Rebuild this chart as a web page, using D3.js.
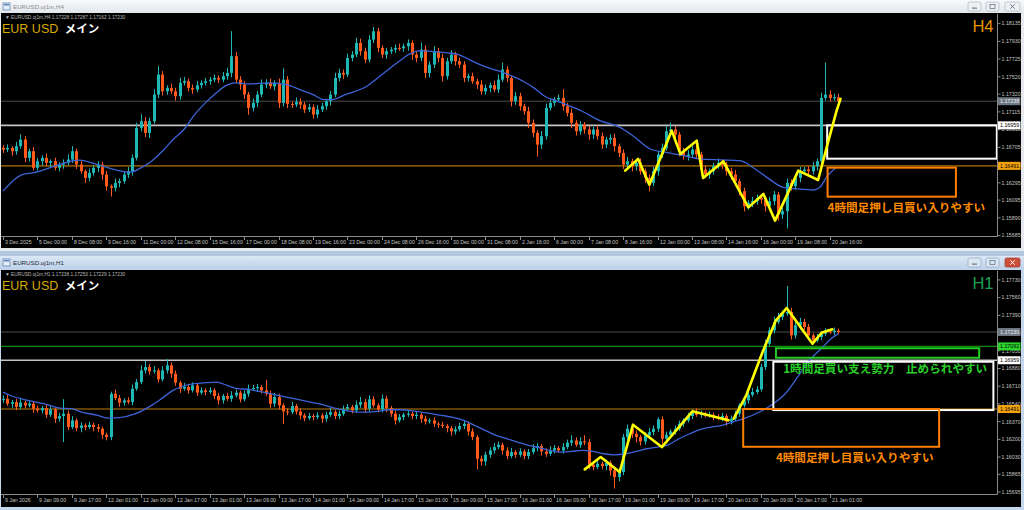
<!DOCTYPE html>
<html><head><meta charset="utf-8">
<script src="https://cdn.jsdelivr.net/npm/d3@7"></script>
<style>html,body{margin:0;padding:0;background:#b9cde2;overflow:hidden}svg{display:block}</style>
</head><body><svg id="c" width="1024" height="510"></svg>
<script>
// ================= DATA =================
const topXLabels = ["3 Dec 2025","5 Dec 00:00","8 Dec 08:00","9 Dec 16:00","11 Dec 00:00","12 Dec 08:00","15 Dec 16:00","17 Dec 00:00","18 Dec 08:00","19 Dec 16:00","23 Dec 00:00","24 Dec 08:00","26 Dec 16:00","30 Dec 00:00","31 Dec 08:00","2 Jan 16:00","6 Jan 00:00","7 Jan 08:00","8 Jan 16:00","12 Jan 00:00","13 Jan 08:00","14 Jan 16:00","16 Jan 00:00","19 Jan 08:00","20 Jan 16:00"];
const botXLabels = ["9 Jan 2026","9 Jan 09:00","9 Jan 17:00","12 Jan 01:00","12 Jan 09:00","12 Jan 17:00","13 Jan 01:00","13 Jan 09:00","13 Jan 17:00","14 Jan 01:00","14 Jan 09:00","14 Jan 17:00","15 Jan 01:00","15 Jan 09:00","15 Jan 17:00","16 Jan 01:00","16 Jan 09:00","16 Jan 17:00","19 Jan 01:00","19 Jan 09:00","19 Jan 17:00","20 Jan 01:00","20 Jan 09:00","20 Jan 17:00","21 Jan 01:00"];

const topTicks = [1.18135,1.17930,1.17725,1.17520,1.17320,1.17115,1.16910,1.16705,1.16500,1.16295,1.16095,1.15890,1.15685];
const botTicks = [1.17730,1.17560,1.17390,1.17220,1.17050,1.16880,1.16710,1.16540,1.16370,1.16200,1.16030,1.15865,1.15695];

// H4 closes
const topOpen0 = 1.16700;
const topClose = [
1.16680,1.16699,1.16660,1.16718,1.16795,1.16583,1.16660,1.16468,
1.16545,1.16583,1.16526,1.16545,1.16468,1.16506,1.16526,1.16564,
1.16660,1.16506,1.16429,1.16352,1.16410,1.16468,1.16506,1.16391,
1.16256,1.16237,1.16295,1.16314,1.16391,1.16429,1.16583,1.16930,
1.17007,1.16872,1.17007,1.17315,1.17546,1.17353,1.17392,1.17353,
1.17296,1.17450,1.17469,1.17392,1.17373,1.17423,1.17450,1.17469,
1.17488,1.17507,1.17488,1.17527,1.17565,1.17758,1.17488,1.17430,
1.17315,1.17161,1.17219,1.17315,1.17430,1.17450,1.17411,1.17450,
1.17219,1.17488,1.17207,1.17199,1.17230,1.17199,1.17142,1.17169,
1.17084,1.17142,1.17180,1.17238,1.17315,1.17507,1.17565,1.17546,
1.17738,1.17777,1.17912,1.17815,1.17719,1.17950,1.18046,1.17854,
1.17777,1.17815,1.17835,1.17854,1.17850,1.17873,1.17912,1.17777,
1.17738,1.17835,1.17565,1.17661,1.17815,1.17738,1.17527,1.17700,
1.17777,1.17700,1.17661,1.17507,1.17527,1.17469,1.17430,1.17353,
1.17392,1.17423,1.17373,1.17488,1.17604,1.17507,1.17238,1.17296,
1.17180,1.17122,1.16988,1.16872,1.16737,1.16834,1.17161,1.17219,
1.17257,1.17276,1.17180,1.17103,1.16988,1.16891,1.16968,1.16911,
1.16853,1.16911,1.16834,1.16737,1.16795,1.16814,1.16718,1.16641,
1.16506,1.16545,1.16487,1.16526,1.16429,1.16352,1.16295,1.16429,
1.16622,1.16699,1.16891,1.16911,1.16853,1.16660,1.16603,1.16622,
1.16680,1.16622,1.16449,1.16391,1.16429,1.16487,1.16526,1.16506,
1.16429,1.16391,1.16314,1.16198,1.16025,1.16064,1.16083,1.16121,
1.16102,1.16025,1.16083,1.16160,1.15929,1.15967,1.16295,1.16256,
1.16352,1.16429,1.16449,1.16429,1.16487,1.16545,1.17276,1.17315,
1.17276,1.17284,1.17238];
// upper / lower wick lengths in pips
const topHiW = [
3,4,2,5,6,4,3,5, 4,3,5,2,4,3,4,6, 6,3,4,2,5,3,4,3, 4,2,5,3,4,5,4,6,
8,5,4,6,10,4,3,5, 4,6,5,3,4,5,3,4, 3,4,3,5,6,29,5,4, 4,3,5,4,6,4,5,3,
5,13,4,3,5,4,3,4, 3,5,4,3,4,6,5,4, 5,4,6,5,4,5,5,4, 3,4,3,4,5,3,4,3,
4,8,5,4,6,4,5,4, 5,3,4,4,3,4,3,5, 4,3,5,6,8,4,3,5, 4,3,5,4,3,6,5,4,
3,4,10,4,5,3,4,3, 4,3,5,4,3,4,5,3, 4,5,3,4,5,3,4,5, 4,5,6,8,4,3,4,5,
4,5,3,4,3,4,5,4, 3,4,5,3,4,3,5,4, 4,3,5,4,3,4,5,4, 4,5,3,4,5,3,6,37,
5,4,4];
const topLoW = [
4,3,5,4,3,5,4,3, 3,5,4,6,3,4,5,3, 4,5,3,6,4,3,5,6, 5,10,4,5,3,4,5,3,
4,5,6,3,4,5,4,3, 5,4,3,4,5,3,4,3, 4,3,4,3,4,5,4,6, 5,8,4,5,3,4,3,5,
6,4,5,4,3,5,4,3, 5,4,3,4,5,3,4,5, 3,4,3,5,4,3,4,5, 4,5,3,4,3,4,5,6,
5,4,6,5,4,5,6,4, 3,5,4,5,4,3,5,4, 4,5,3,4,3,5,6,4, 5,4,6,5,14,5,4,3,
4,3,5,4,6,5,4,5, 6,5,4,5,4,5,6,5, 5,4,6,5,4,6,10,4, 5,4,3,4,5,6,4,5,
4,5,6,4,5,4,3,5, 5,6,4,5,6,4,5,4, 5,6,4,5,7,5,20,5, 4,5,4,5,4,5,4,3,
4,3,4];
// H4 moving average (bar index, price)
const topMABar = [0,4.5,7,12,15.8,17.7,22,24.5,29.5,32,34.5,37,39.5,42,44.5,47,49.5,52,54,57,62,65.8,69.5,72,74.5,76.4,79.5,84.5,87,89.5,92,94.5,97,99.5,103.3,105.8,108.3,110.8,113.3,115.8,118.3,120.8,123.3,125.8,128.3,130.8,134.5,138.6,143.3,146.5,150.3,154.1,158,161.9,166.5,171.2,174.5,177.4,181.2,184.5,188.2,189.7,191.4,193.6];
const topMAVal = [1.16199,1.16391,1.16410,1.16487,1.16545,1.16557,1.16506,1.16468,1.16418,1.16468,1.16545,1.16660,1.16795,1.16911,1.17084,1.17219,1.17334,1.17423,1.17450,1.17438,1.17450,1.17430,1.17361,1.17315,1.17257,1.17257,1.17315,1.17411,1.17507,1.17604,1.17700,1.17785,1.17823,1.17815,1.17796,1.17777,1.17719,1.17661,1.17615,1.17577,1.17527,1.17469,1.17392,1.17296,1.17246,1.17199,1.17122,1.17014,1.16936,1.16830,1.16686,1.16647,1.16610,1.16571,1.16560,1.16551,1.16460,1.16358,1.16243,1.16225,1.16212,1.16243,1.16372,1.16474];
// yellow hand-drawn zigzag (H4)
const topZigBar = [144.5,147.5,150.1,155.3,157.3,161.1,162.6,167.3,173.1,176.6,179.3,184.7,189.3,191.7,193.6,194.5];
const topZigVal = [1.16436,1.16571,1.16274,1.16898,1.16629,1.16782,1.16351,1.16543,1.16011,1.16166,1.15858,1.16436,1.16328,1.16782,1.17129,1.17265];

// H1 closes
const botOpen0 = 1.16580;
const botClose = [
1.16590,1.16542,1.16558,1.16510,1.16552,1.16526,1.16542,1.16494,
1.16478,1.16500,1.16436,1.16488,1.16398,1.16424,1.16446,1.16318,
1.16382,1.16308,1.16334,1.16318,1.16340,1.16318,1.16302,1.16244,
1.16222,1.16638,1.16596,1.16552,1.16574,1.16558,1.16686,1.16750,
1.16862,1.16894,1.16852,1.16862,1.16776,1.16862,1.16910,1.16830,
1.16744,1.16686,1.16702,1.16670,1.16718,1.16648,1.16670,1.16654,
1.16670,1.16616,1.16574,1.16616,1.16590,1.16622,1.16648,1.16584,
1.16638,1.16686,1.16692,1.16702,1.16670,1.16638,1.16542,1.16606,
1.16526,1.16468,1.16462,1.16520,1.16468,1.16430,1.16404,1.16424,
1.16414,1.16430,1.16398,1.16436,1.16462,1.16424,1.16446,1.16494,
1.16510,1.16478,1.16532,1.16558,1.16494,1.16584,1.16526,1.16488,
1.16590,1.16500,1.16446,1.16382,1.16414,1.16436,1.16446,1.16424,
1.16436,1.16398,1.16372,1.16382,1.16350,1.16340,1.16328,1.16308,
1.16276,1.16296,1.16328,1.16350,1.16276,1.16222,1.16014,1.15988,
1.16052,1.16094,1.16126,1.16148,1.16094,1.16040,1.16078,1.16052,
1.16084,1.16040,1.16078,1.16116,1.16136,1.16084,1.16062,1.16094,
1.16116,1.16094,1.16126,1.16168,1.16190,1.16148,1.16180,1.16174,
1.15956,1.15934,1.15966,1.15944,1.15976,1.15902,1.15838,1.15886,
1.16222,1.16302,1.16254,1.16222,1.16180,1.16238,1.16270,1.16302,
1.16392,1.16206,1.16244,1.16276,1.16302,1.16350,1.16382,1.16424,
1.16456,1.16436,1.16446,1.16430,1.16436,1.16414,1.16404,1.16424,
1.16372,1.16398,1.16446,1.16526,1.16574,1.16628,1.16654,1.16680,
1.16894,1.17118,1.17246,1.17326,1.17374,1.17406,1.17422,1.17198,
1.17294,1.17326,1.17278,1.17198,1.17150,1.17182,1.17214,1.17236,
1.17230,1.17243,1.17230];
const botHiW = [
3,4,2,3,5,2,3,2, 3,2,4,3,2,3,14,3, 4,2,3,2,3,2,3,2, 2,2,4,3,2,3,4,3,
5,6,3,4,2,4,6,3, 3,2,4,3,3,2,3,2, 3,2,3,2,3,4,3,2, 3,4,3,3,2,10,3,4,
3,2,3,4,2,3,2,3, 2,3,2,3,4,2,3,3, 3,2,4,5,3,4,3,2, 4,3,2,3,3,2,3,2,
3,2,3,2,3,2,3,2, 2,3,3,3,2,3,2,3, 3,3,4,3,2,3,4,2, 3,2,3,4,3,2,3,4,
3,2,4,3,5,3,4,6, 3,2,3,2,3,2,3,4, 3,4,5,3,2,3,4,3, 2,3,3,2,3,3,2,3,
3,4,3,2,3,2,3,3, 2,3,3,2,3,3,4,3, 3,4,3,5,4,3,25,4, 5,4,3,3,2,3,2,3,
2,3,2];
const botLoW = [
3,2,4,3,2,3,2,4, 2,3,3,2,4,3,25,3, 2,3,4,3,2,4,3,4, 3,3,2,4,3,2,3,2,
2,3,3,2,3,2,3,4, 3,4,2,3,2,3,2,3, 2,3,4,3,2,3,2,3, 2,3,2,3,3,2,4,3,
4,12,3,2,3,4,3,2, 3,2,4,3,2,3,3,2, 2,3,2,3,4,3,2,3, 3,4,3,4,2,3,2,3,
3,4,3,2,3,3,2,4, 4,3,2,3,4,3,10,4, 4,3,3,2,4,3,2,3, 2,3,3,2,3,4,3,2,
3,2,3,2,3,2,3,3, 4,3,2,3,4,5,11,4, 3,3,4,5,4,3,2,3, 3,5,3,2,3,2,3,2,
3,2,3,2,2,3,2,3, 4,3,2,3,2,3,2,2, 2,3,2,3,2,3,2,4, 3,4,3,4,3,2,3,2,
2,3,2];
const botMABar = [0,2,5.8,9.5,13.3,15.8,18.3,22,24.5,27,30.8,34.5,37,39.5,42,44.5,47,49.5,52,54.5,57,59.5,62,65.8,69.5,73.3,77,79.5,82,84.5,87,89.5,92,94.5,97,99.5,102,104.5,107,109.5,112,114.5,117,119.5,122,124.5,127,129.5,132,134.5,137,139.5,142,144.5,147,149.5,152,154.5,157,159.5,162,164.5,167,169.5,172,175.8,178.8,181.6,184.4,186.9,189.7,192.5,194];
const botMAVal = [1.16654,1.16616,1.16574,1.16542,1.16500,1.16494,1.16462,1.16430,1.16404,1.16408,1.16446,1.16526,1.16596,1.16670,1.16712,1.16734,1.16744,1.16750,1.16718,1.16686,1.16680,1.16660,1.16638,1.16606,1.16574,1.16542,1.16500,1.16478,1.16462,1.16462,1.16468,1.16484,1.16484,1.16478,1.16462,1.16446,1.16430,1.16411,1.16382,1.16334,1.16286,1.16238,1.16206,1.16174,1.16142,1.16120,1.16094,1.16078,1.16084,1.16094,1.16084,1.16062,1.16052,1.16062,1.16084,1.16110,1.16126,1.16148,1.16206,1.16254,1.16296,1.16318,1.16334,1.16366,1.16398,1.16465,1.16539,1.16635,1.16789,1.16942,1.17057,1.17172,1.17215];
const botZig1Bar = [135.1,138.8,143.2,146.3,153.0,160.1,168.5];
const botZig1Val = [1.15912,1.16030,1.15886,1.16340,1.16126,1.16469,1.16383];
const botZig2Bar = [169.7,172.6,176.4,179.5,182.0,188.0,190.1,192.6];
const botZig2Val = [1.16398,1.16623,1.17038,1.17342,1.17460,1.17118,1.17223,1.17256];

// horizontal levels
const topLevelP = [1.17238,1.16959,1.16491];
const topLevelK = ["gray","white","orange"];
const botLevelP = [1.17230,1.17092,1.16959,1.16491];
const botLevelK = ["gray","green","white","orange"];

// annotation zones: [bar start, bar end, price top, price bottom, kind]
const topZones = [[191.4,230.8,1.16959,1.16574,"white"],[191.5,221.3,1.16470,1.16135,"orange"]];
const botZones = [[179.5,226.7,1.17074,1.16983,"green"],[178.9,230.0,1.16945,1.16481,"white"],[171.9,217.4,1.16491,1.16129,"orange"]];
const topNotes = [[191.5,1.16011,"4時間足押し目買い入りやすい","orange"]];
const botNotes = [[181.2,1.16882,"1時間足買い支え勢力　止められやすい","green"],[179.5,1.16027,"4時間足押し目買い入りやすい","orange"]];

// ================= DRAW =================
const svg = d3.select("#c");
const defs = svg.append("defs");
function grad(id,a,b){const g=defs.append("linearGradient").attr("id",id).attr("x1",0).attr("x2",0).attr("y1",0).attr("y2",1);g.append("stop").attr("offset",0).attr("stop-color",a);g.append("stop").attr("offset",1).attr("stop-color",b);}
grad("tb1","#f8f9fb","#e2e7ed");
grad("tb2","#dce8f5","#bcd1e8");

const LV = {
  gray:{line:"#4d4d4d",w:1,bg:"#6e7884",fg:"#f0f0f0"},
  white:{line:"#c4c4c4",w:1.6,bg:"#ffffff",fg:"#000"},
  orange:{line:"#7f5400",w:1.6,bg:"#f2a20c",fg:"#000"},
  green:{line:"#118a11",w:1.2,bg:"#2ad42a",fg:"#000"}
};
const ZC = {white:"#ffffff",orange:"#ff7f00",green:"#22cc22"};
const TC = {orange:"#ff8a00",green:"#27cf27"};

// MDI background
svg.append("rect").attr("width",1024).attr("height",510).attr("fill","#b3c8de");

function windowChrome(y0,h,title,active){
  svg.append("rect").attr("x",0).attr("y",y0).attr("width",1024).attr("height",h).attr("fill",active?"#c4d7ec":"#e6e9ee");
  svg.append("rect").attr("x",0).attr("y",y0).attr("width",1024).attr("height",13).attr("fill",active?"url(#tb2)":"url(#tb1)");
  svg.append("rect").attr("x",3).attr("y",y0+3).attr("width",7).attr("height",7).attr("fill","#e4eef8").attr("stroke","#5f86b3").attr("stroke-width",0.8);
  svg.append("rect").attr("x",4).attr("y",y0+4).attr("width",5).attr("height",1.5).attr("fill","#5f86b3");
  svg.append("text").attr("x",13).attr("y",y0+9).attr("font-family","Liberation Sans, Arial").attr("font-size",6.2)
    .attr("fill",active?"#1e2a38":"#8c8c8c").text(title);
  [968,986,1005].forEach((bx,i)=>{
    const close = i===2 && active;
    svg.append("rect").attr("x",bx).attr("y",y0+2).attr("width",i===2?15:13).attr("height",9).attr("rx",1.5)
      .attr("fill",close?"#cc4f3c":(active?"#dae6f2":"#eef1f4")).attr("stroke",close?"#9b3a2c":(active?"#8fa7c1":"#aeb6bf")).attr("stroke-width",0.7);
    const cx = bx+(i===2?7.5:6.5), cy=y0+6.5, col = close?"#fff":"#6d7782";
    if(i===0) svg.append("rect").attr("x",cx-2.5).attr("y",cy+1).attr("width",5).attr("height",1.2).attr("fill",col);
    if(i===1) svg.append("rect").attr("x",cx-2.5).attr("y",cy-2).attr("width",5).attr("height",4).attr("fill","none").attr("stroke",col).attr("stroke-width",0.8);
    if(i===2){svg.append("path").attr("d",`M${cx-2.2},${cy-2.2}L${cx+2.2},${cy+2.2}M${cx+2.2},${cy-2.2}L${cx-2.2},${cy+2.2}`).attr("stroke",col).attr("stroke-width",1);}
  });
}
windowChrome(0,251,"EURUSD.oj1m,H4",false);
windowChrome(256,254,"EURUSD.oj1m,H1",true);

const barX = d3.scaleLinear().domain([0,100]).range([3,433.6]);
const AXISX = 997.5;

function panel(cfg){
  const y = d3.scaleLinear().domain(cfg.yDom).range(cfg.yRng);
  svg.append("rect").attr("x",1).attr("y",cfg.blackTop).attr("width",1020).attr("height",cfg.blackH).attr("fill","#000");
  const clipId = "clip"+cfg.id;
  defs.append("clipPath").attr("id",clipId).append("rect").attr("x",1).attr("y",cfg.top).attr("width",AXISX+1).attr("height",cfg.bottom-cfg.top);
  const pg = svg.append("g").attr("clip-path",`url(#${clipId})`);

  // level lines
  cfg.levelP.forEach((p,i)=>{
    const s = LV[cfg.levelK[i]];
    pg.append("line").attr("x1",1).attr("x2",AXISX).attr("y1",y(p)).attr("y2",y(p)).attr("stroke",s.line).attr("stroke-width",s.w);
  });

  // candles
  const bars = cfg.close.map((c,i)=>{
    const o = i ? cfg.close[i-1] : cfg.open0;
    return {i,o,c,h:Math.max(o,c)+cfg.hiW[i]*1e-4,l:Math.min(o,c)-cfg.loW[i]*1e-4};
  });
  const bull="#1fb8b4", bear="#ff5a1c";
  pg.append("g").selectAll("line").data(bars).join("line")
    .attr("x1",d=>Math.round(barX(d.i))+0.5).attr("x2",d=>Math.round(barX(d.i))+0.5)
    .attr("y1",d=>y(d.h)).attr("y2",d=>y(d.l))
    .attr("stroke",d=>d.c>=d.o?bull:bear).attr("stroke-width",1);
  pg.append("g").selectAll("rect").data(bars).join("rect")
    .attr("x",d=>Math.round(barX(d.i))-1).attr("width",3)
    .attr("y",d=>Math.min(y(d.o),y(d.c)))
    .attr("height",d=>Math.max(1,Math.abs(y(d.o)-y(d.c))))
    .attr("fill",d=>d.c>=d.o?bull:bear);

  // moving average
  const ma = cfg.maBar.map((b,i)=>[b,cfg.maVal[i]]);
  pg.append("path").datum(ma).attr("fill","none").attr("stroke","#3d63d6").attr("stroke-width",1.3)
    .attr("d",d3.line().x(d=>barX(d[0])).y(d=>y(d[1])).curve(d3.curveMonotoneX));

  // zones
  cfg.zones.forEach(z=>{
    pg.append("rect").attr("x",barX(z[0])).attr("y",y(z[2])).attr("width",barX(z[1])-barX(z[0])).attr("height",y(z[3])-y(z[2]))
      .attr("fill","none").attr("stroke",ZC[z[4]]).attr("stroke-width",2);
  });
  // yellow zigzags
  cfg.zigs.forEach(zg=>{
    const pts = zg[0].map((b,i)=>[b,zg[1][i]]);
    pg.append("path").datum(pts).attr("fill","none").attr("stroke","#ffff00").attr("stroke-width",2.6)
      .attr("stroke-linejoin","round").attr("stroke-linecap","round")
      .attr("d",d3.line().x(d=>barX(d[0])).y(d=>y(d[1])));
  });
  // notes
  cfg.notes.forEach(n=>{
    pg.append("text").attr("x",barX(n[0])).attr("y",y(n[1])).attr("dominant-baseline","central")
      .attr("font-family","Noto Sans CJK JP").attr("font-weight","bold").attr("font-size",11.6)
      .attr("fill",TC[n[3]]).text(n[2]);
  });

  // frame
  const fc="#8a8a8a";
  svg.append("line").attr("x1",1).attr("x2",AXISX).attr("y1",cfg.bottom+0.5).attr("y2",cfg.bottom+0.5).attr("stroke",fc);
  svg.append("line").attr("x1",AXISX).attr("x2",AXISX).attr("y1",cfg.top).attr("y2",cfg.bottom+0.5).attr("stroke",fc);

  // x axis labels
  cfg.xLabels.forEach((t,k)=>{
    const x = Math.round(barX(8*k))+0.5;
    svg.append("line").attr("x1",x).attr("x2",x).attr("y1",cfg.bottom+0.5).attr("y2",cfg.bottom+4).attr("stroke",fc);
    svg.append("text").attr("x",x+1.5).attr("y",cfg.bottom+8.2).attr("font-family","Liberation Sans, Arial").attr("font-size",5.2).attr("fill","#c4c4c4").text(t);
  });
  // y axis labels
  cfg.yTicks.forEach(p=>{
    const yy = y(p);
    svg.append("line").attr("x1",AXISX).attr("x2",AXISX+3).attr("y1",yy).attr("y2",yy).attr("stroke",fc);
    svg.append("text").attr("x",AXISX+4).attr("y",yy).attr("dy","0.35em").attr("font-family","Liberation Sans, Arial").attr("font-size",5.3).attr("fill","#c4c4c4").text(p.toFixed(5));
  });
  cfg.levelP.forEach((p,i)=>{
    const s = LV[cfg.levelK[i]], yy=y(p);
    svg.append("rect").attr("x",AXISX+0.5).attr("y",yy-4).attr("width",22.5).attr("height",8).attr("fill",s.bg);
    svg.append("text").attr("x",AXISX+2.5).attr("y",yy).attr("dy","0.35em").attr("font-family","Liberation Sans, Arial").attr("font-size",5.3).attr("fill",s.fg).text(p.toFixed(5));
  });

  // header texts
  svg.append("text").attr("x",5).attr("y",cfg.top+4.6).attr("font-family","Liberation Sans, Arial").attr("font-size",4.8).attr("fill","#b8b8b8").text(cfg.info);
  const t = svg.append("text").attr("x",2).attr("y",cfg.top+19).attr("font-size",12.5);
  t.append("tspan").attr("font-family","Liberation Sans, Arial").attr("fill","#d9aa00").text("EUR USD ");
  t.append("tspan").attr("font-family","Noto Sans CJK JP").attr("font-weight","bold").attr("font-size",11.5).attr("fill","#ffffff").attr("dx",3).text("メイン");
  svg.append("text").attr("x",993.5).attr("y",cfg.top+17.5).attr("text-anchor","end").attr("font-family","Liberation Sans, Arial")
    .attr("font-size",16.5).attr("fill",cfg.tfColor).text(cfg.tf);
}

panel({id:"t",blackTop:13,blackH:235,top:14,bottom:236,yDom:[1.15685,1.18135],yRng:[235.6,23.6],
  close:topClose,open0:topOpen0,hiW:topHiW,loW:topLoW,maBar:topMABar,maVal:topMAVal,
  zigs:[[topZigBar,topZigVal]],zones:topZones,notes:topNotes,levelP:topLevelP,levelK:topLevelK,
  xLabels:topXLabels,yTicks:topTicks,info:"▼ EURUSD.oj1m,H4  1.17228 1.17287 1.17162 1.17230",tf:"H4",tfColor:"#e89600"});
panel({id:"b",blackTop:270,blackH:237,top:271,bottom:494,yDom:[1.15695,1.17730],yRng:[492,279.9],
  close:botClose,open0:botOpen0,hiW:botHiW,loW:botLoW,maBar:botMABar,maVal:botMAVal,
  zigs:[[botZig1Bar,botZig1Val],[botZig2Bar,botZig2Val]],zones:botZones,notes:botNotes,levelP:botLevelP,levelK:botLevelK,
  xLabels:botXLabels,yTicks:botTicks,info:"▼ EURUSD.oj1m,H1  1.17238 1.17250 1.17229 1.17230",tf:"H1",tfColor:"#1fa055"});
</script></body></html>
